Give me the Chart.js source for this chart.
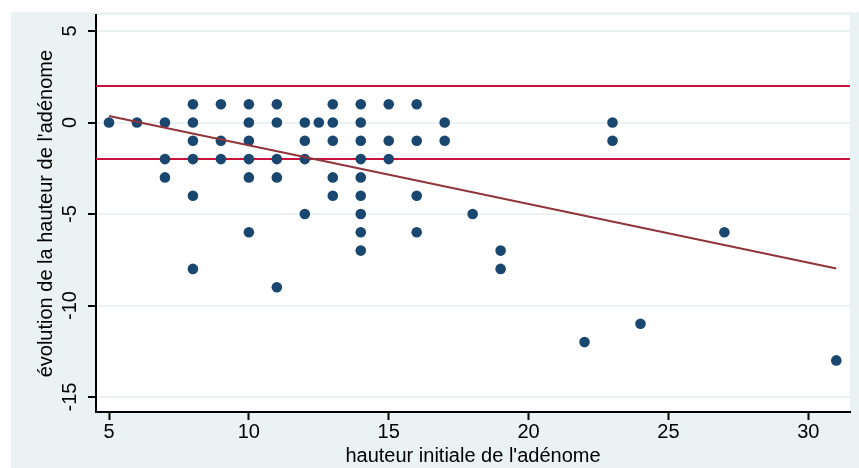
<!DOCTYPE html>
<html>
<head>
<meta charset="utf-8">
<script src="https://cdn.jsdelivr.net/npm/chart.js@4/dist/chart.umd.min.js"></script>
<style>
  html, body { margin: 0; padding: 0; background: #ffffff; }
  #wrap { width: 859px; height: 468px; }
</style>
</head>
<body>
<div id="wrap"><canvas id="c" width="859" height="468"></canvas></div>
<script>
// ---- data ----
const hauteurInitiale = [5, 6,
  7, 7, 7,
  8, 8, 8, 8, 8, 8,
  9, 9, 9,
  10, 10, 10, 10, 10, 10,
  11, 11, 11, 11, 11,
  12, 12, 12, 12,
  12.5,
  13, 13, 13, 13, 13,
  14, 14, 14, 14, 14, 14, 14, 14, 14,
  15, 15, 15,
  16, 16, 16, 16,
  17, 17,
  18,
  19, 19,
  22,
  23, 23,
  24,
  27,
  31];
const evolution = [0, 0,
  0, -2, -3,
  1, 0, -1, -2, -4, -8,
  1, -1, -2,
  1, 0, -1, -2, -3, -6,
  1, 0, -2, -3, -9,
  0, -1, -2, -5,
  0,
  1, 0, -1, -3, -4,
  1, 0, -1, -2, -3, -4, -5, -6, -7,
  1, -1, -2,
  1, -1, -4, -6,
  0, -1,
  -5,
  -7, -8,
  -12,
  0, -1,
  -11,
  -6,
  -13];
const fitX = [5, 31];
const fitY = [0.36, -7.98];
const refLinesY = [2, -2];
const xTicks = [5, 10, 15, 20, 25, 30];
const yTicks = [-15, -10, -5, 0, 5];
const X_MIN = 4.535, X_MAX = 31.49;
const Y_MIN = -15.82, Y_MAX = 5.86;

// ---- styles ----
const FONT = { family: "'Liberation Sans', Arial, Helvetica, sans-serif", size: 20 };
const BG_OUTER = '#eaf2f3';
const POINT_COLOR = '#1a476f';
const FIT_COLOR = '#90353b';
const REF_COLOR = '#c8143c';

const bgPlugin = {
  id: 'stataBg',
  beforeDraw(chart) {
    const ctx = chart.ctx, a = chart.chartArea;
    ctx.save();
    ctx.fillStyle = '#ffffff';
    ctx.fillRect(0, 0, chart.width, chart.height);
    ctx.fillStyle = BG_OUTER;
    ctx.fillRect(11, 12, chart.width - 11, chart.height - 12);
    ctx.fillStyle = '#ffffff';
    ctx.fillRect(a.left, a.top, a.right - a.left, a.bottom - a.top);
    ctx.restore();
  }
};

const points = hauteurInitiale.map((x, i) => ({ x: x, y: evolution[i] }));
const refDatasets = refLinesY.map(v => ({
  type: 'line',
  data: [{ x: X_MIN, y: v }, { x: X_MAX, y: v }],
  borderColor: REF_COLOR,
  borderWidth: 2,
  pointRadius: 0,
  fill: false,
  order: 3
}));

new Chart(document.getElementById('c'), {
  type: 'scatter',
  data: {
    datasets: [
      ...refDatasets,
      {
        type: 'scatter',
        data: points,
        backgroundColor: POINT_COLOR,
        borderWidth: 0,
        pointRadius: 5.3,
        order: 2
      },
      {
        type: 'line',
        data: fitX.map((x, i) => ({ x: x, y: fitY[i] })),
        borderColor: FIT_COLOR,
        borderWidth: 2,
        pointRadius: 0,
        fill: false,
        order: 1
      }
    ]
  },
  options: {
    responsive: false,
    animation: false,
    events: [],
    layout: { padding: { left: 0, top: 15, right: 9, bottom: 0 } },
    plugins: { legend: { display: false }, tooltip: { enabled: false } },
    scales: {
      x: {
        type: 'linear',
        min: X_MIN, max: X_MAX,
        afterBuildTicks: s => { s.ticks = xTicks.map(v => ({ value: v })); },
        afterFit: s => { s.height = 56; },
        grid: { drawOnChartArea: false, drawTicks: true, tickLength: 8, tickColor: '#000', tickWidth: 2 },
        border: { display: true, color: '#000', width: 2 },
        ticks: { font: FONT, color: '#000', padding: 0, maxRotation: 0, minRotation: 0, autoSkip: false },
        title: { display: true, text: "hauteur initiale de l'adénome", font: FONT, color: '#000', padding: { top: 0, bottom: 0 } }
      },
      y: {
        type: 'linear',
        min: Y_MIN, max: Y_MAX,
        afterBuildTicks: s => { s.ticks = yTicks.map(v => ({ value: v })); },
        afterFit: s => { s.width = 96; },
        grid: { color: BG_OUTER, lineWidth: 2, drawTicks: true, tickLength: 8, tickColor: '#000', tickWidth: 2 },
        border: { display: true, color: '#000', width: 2 },
        ticks: { font: FONT, color: '#000', padding: 3.3, minRotation: 90, maxRotation: 90, crossAlign: 'center', autoSkip: false },
        title: { display: true, text: "évolution de la hauteur de l'adénome", font: FONT, color: '#000', padding: { top: 34.5, bottom: 0 } }
      }
    }
  },
  plugins: [bgPlugin]
});
</script>
</body>
</html>
